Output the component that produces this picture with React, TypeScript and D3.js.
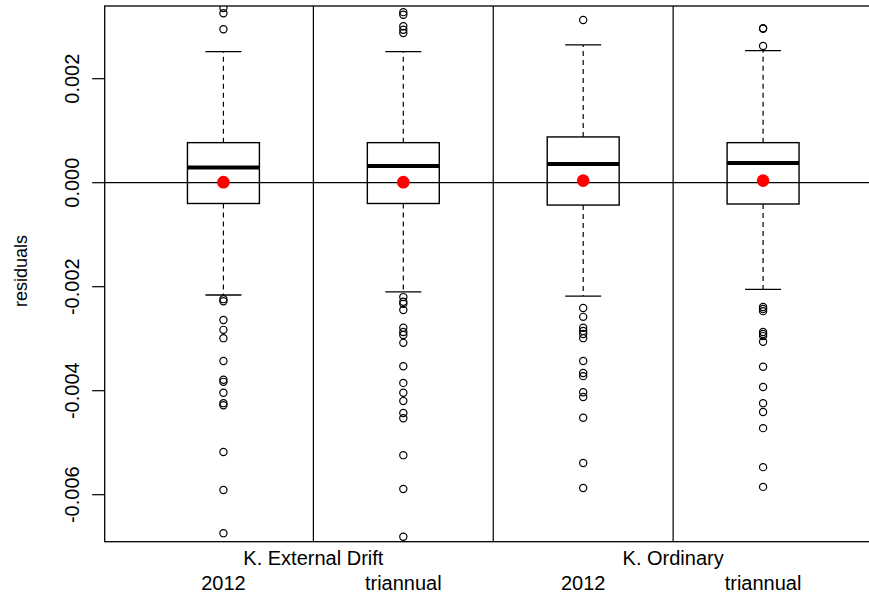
import React from "react";
import * as d3 from "d3";

const boxNames = ["2012", "triannual", "2012", "triannual"];
const groupNames = ["K. External Drift", "K. Ordinary"];
const groupCenters = [1.5, 3.5];
const dividers = [1.5, 2.5, 3.5];
const yTicks = [-0.006, -0.004, -0.002, 0, 0.002];

const whiskerHi = [0.00252, 0.00252, 0.00265, 0.00254];
const q3 = [0.00077, 0.00077, 0.00088, 0.00077];
const medians = [0.00029, 0.00032, 0.00036, 0.00038];
const q1 = [-0.0004, -0.0004, -0.00043, -0.00041];
const whiskerLo = [-0.00216, -0.0021, -0.00218, -0.00205];
const means = [0.00001, 0.00001, 0.00004, 0.00004];

const outliers1 = [0.00336, 0.00326, 0.00295, -0.00224, -0.00228, -0.00264, -0.00283, -0.00299, -0.00343, -0.00379, -0.00383, -0.00404, -0.00424, -0.00428, -0.00518, -0.00591, -0.00674];
const outliers2 = [0.00328, 0.00323, 0.00301, 0.00294, 0.00288, -0.0022, -0.00229, -0.00233, -0.00245, -0.00279, -0.00287, -0.00293, -0.00308, -0.00353, -0.00385, -0.00404, -0.0042, -0.00443, -0.00453, -0.00524, -0.00589, -0.00681];
const outliers3 = [0.00313, -0.00241, -0.00258, -0.00279, -0.00285, -0.00291, -0.00299, -0.00343, -0.00366, -0.00372, -0.00403, -0.00412, -0.00452, -0.00539, -0.00587];
const outliers4 = [0.00297, 0.00296, 0.00263, -0.00239, -0.00243, -0.00247, -0.00287, -0.00291, -0.00295, -0.00306, -0.00354, -0.00393, -0.00424, -0.00441, -0.00472, -0.00547, -0.00585];
const outliers = [outliers1, outliers2, outliers3, outliers4];

const W = 869;
const H = 594;
const left = 104.7;
const right = 881.8;
const top = 6;
const bottom = 541.7;
const FONT = "'Liberation Sans', Arial, Helvetica, sans-serif";

export default function App() {
  const x = d3.scaleLinear().domain([0.34, 4.66]).range([left, right]);
  const y = d3.scaleLinear().domain([-0.006904, 0.003398]).range([bottom, top]);
  const unit = x(1) - x(0);
  const boxHalf = unit * 0.2;
  const capHalf = unit * 0.1;

  return (
    <svg
      width={W}
      height={H}
      style={{ position: "absolute", left: 0, top: 0, background: "#fff" }}
      fontFamily={FONT}
    >
      <rect x={0} y={0} width={W} height={H} fill="#fff" />
      <defs>
        <clipPath id="plotclip">
          <rect x={left} y={top} width={right - left} height={bottom - top} />
        </clipPath>
      </defs>
      <g clipPath="url(#plotclip)">
        {whiskerHi.map((_, i) => {
          const cx = x(i + 1);
          return (
            <g key={i}>
              <line x1={cx} x2={cx} y1={y(q3[i])} y2={y(whiskerHi[i])} stroke="#000" strokeWidth={1.2} strokeDasharray="5,4" />
              <line x1={cx} x2={cx} y1={y(q1[i])} y2={y(whiskerLo[i])} stroke="#000" strokeWidth={1.2} strokeDasharray="5,4" />
              <line x1={cx - capHalf} x2={cx + capHalf} y1={y(whiskerHi[i])} y2={y(whiskerHi[i])} stroke="#000" strokeWidth={1.3} />
              <line x1={cx - capHalf} x2={cx + capHalf} y1={y(whiskerLo[i])} y2={y(whiskerLo[i])} stroke="#000" strokeWidth={1.3} />
              <rect x={cx - boxHalf} y={y(q3[i])} width={boxHalf * 2} height={y(q1[i]) - y(q3[i])} fill="#fff" stroke="#000" strokeWidth={1.4} />
              <line x1={cx - boxHalf} x2={cx + boxHalf} y1={y(medians[i])} y2={y(medians[i])} stroke="#000" strokeWidth={4} />
              {outliers[i].map((v, j) => (
                <circle key={j} cx={cx} cy={y(v)} r={3.6} fill="none" stroke="#000" strokeWidth={1.2} />
              ))}
            </g>
          );
        })}
        <line x1={left} x2={right} y1={y(0)} y2={y(0)} stroke="#000" strokeWidth={1.2} />
        {dividers.map((d) => (
          <line key={d} x1={x(d)} x2={x(d)} y1={top} y2={bottom} stroke="#000" strokeWidth={1.2} />
        ))}
        {means.map((m, i) => (
          <circle key={i} cx={x(i + 1)} cy={y(m)} r={6.3} fill="#ff0000" />
        ))}
      </g>
      <rect x={left} y={top} width={right - left} height={bottom - top} fill="none" stroke="#000" strokeWidth={1.3} />
      {yTicks.map((t) => (
        <g key={t}>
          <line x1={left - 12.5} x2={left} y1={y(t)} y2={y(t)} stroke="#000" strokeWidth={1.2} />
          <text
            transform={`translate(79,${y(t)}) rotate(-90)`}
            textAnchor="middle"
            fontSize={20}
            fill="#000"
          >
            {t === 0 ? "0.000" : d3.format(".3f")(t).replace("−", "-")}
          </text>
        </g>
      ))}
      <text transform={`translate(27,271) rotate(-90)`} textAnchor="middle" fontSize={18} fill="#000">
        residuals
      </text>
      {groupNames.map((g, i) => (
        <text key={g} x={x(groupCenters[i])} y={565} textAnchor="middle" fontSize={20} fill="#000">
          {g}
        </text>
      ))}
      {boxNames.map((b, i) => (
        <text key={i} x={x(i + 1)} y={590} textAnchor="middle" fontSize={20} fill="#000">
          {b}
        </text>
      ))}
    </svg>
  );
}
